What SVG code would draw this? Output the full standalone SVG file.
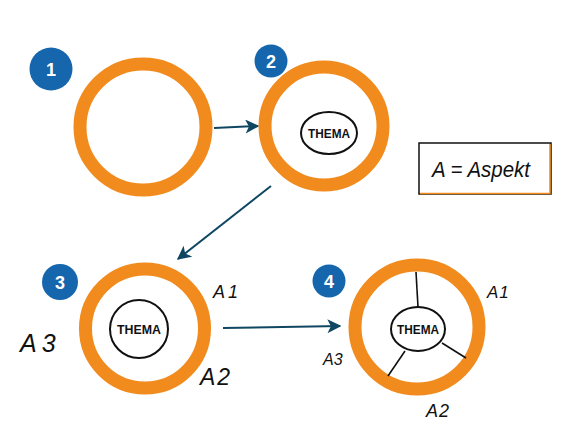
<svg xmlns="http://www.w3.org/2000/svg" width="570" height="427" viewBox="0 0 570 427">
<style>
.ring{fill:none;stroke:#F18B1D;stroke-width:13}
.badge{fill:#1666AD}
.num{fill:#fff;font-family:"Liberation Sans",Arial,sans-serif;font-size:18px;font-weight:bold;text-anchor:middle}
.topic{fill:#fff;stroke:#111;stroke-width:2}
.tt{fill:#111;font-family:"Liberation Sans",Arial,sans-serif;font-weight:bold;font-size:13px;text-anchor:middle}
.lab{fill:#111;font-family:"Liberation Sans",Arial,sans-serif;font-style:italic}
.conn{stroke:#0F4763;stroke-width:2;fill:none;marker-end:url(#ah)}
.spoke{stroke:#111;stroke-width:1.6}
</style>
<defs>
<marker id="ah" viewBox="0 0 10 10" refX="9" refY="5" markerWidth="7" markerHeight="7" markerUnits="strokeWidth" orient="auto">
<path d="M0,0 L10,5 L0,10 L2.5,5 Z" fill="#0F4763"/>
</marker>
</defs>
<rect width="570" height="427" fill="#fff"/>
<g id="connectors">
<line class="conn" x1="214" y1="128" x2="258" y2="126"/>
<line class="conn" x1="271" y1="186" x2="178" y2="259"/>
<line class="conn" x1="223" y1="328" x2="340" y2="326"/>
</g>
<g id="step1">
<circle class="ring" cx="143" cy="127" r="63"/>
<circle class="badge" cx="51" cy="69" r="21.5"/>
<text class="num" x="51" y="76">1</text>
</g>
<g id="step2">
<circle class="ring" cx="324" cy="126" r="59"/>
<circle class="badge" cx="271" cy="61" r="16.5"/>
<text class="num" x="271" y="67.5">2</text>
<ellipse class="topic" cx="329" cy="133" rx="28" ry="21"/>
<text class="tt" x="329" y="138" textLength="42" lengthAdjust="spacingAndGlyphs">THEMA</text>
</g>
<g id="legend">
<rect x="419" y="143" width="132" height="51" fill="#fff" stroke="#111" stroke-width="1.5"/>
<path d="M420,193.5 L550,193.5 L550,144" fill="none" stroke="#F18B1D" stroke-width="1.5"/>
<text class="lab" x="432" y="177" font-size="22" textLength="98" lengthAdjust="spacingAndGlyphs">A = Aspekt</text>
</g>
<g id="step3">
<circle class="ring" cx="145" cy="328.5" r="59.5"/>
<circle class="badge" cx="60" cy="282" r="18"/>
<text class="num" x="60" y="289">3</text>
<circle class="topic" cx="139" cy="329" r="29"/>
<text class="tt" x="139" y="334" textLength="44" lengthAdjust="spacingAndGlyphs">THEMA</text>
<text class="lab" x="213" y="298" font-size="18" letter-spacing="3">A1</text>
<text class="lab" x="200" y="385" font-size="23" letter-spacing="2">A2</text>
<text class="lab" x="20" y="352" font-size="25" letter-spacing="5">A3</text>
</g>
<g id="step4">
<circle class="ring" cx="417" cy="327" r="62"/>
<circle class="badge" cx="329" cy="281" r="16.5"/>
<text class="num" x="329" y="287.5">4</text>
<line class="spoke" x1="416" y1="272" x2="418" y2="307"/>
<line class="spoke" x1="442" y1="343" x2="466" y2="358"/>
<line class="spoke" x1="405" y1="351" x2="388" y2="376"/>
<ellipse class="topic" cx="418" cy="329" rx="27" ry="22"/>
<text class="tt" x="418" y="334" textLength="42" lengthAdjust="spacingAndGlyphs">THEMA</text>
<text class="lab" x="487" y="298" font-size="17" letter-spacing="1">A1</text>
<text class="lab" x="426" y="417" font-size="18" letter-spacing="1">A2</text>
<text class="lab" x="323" y="365" font-size="16">A3</text>
</g>
</svg>
